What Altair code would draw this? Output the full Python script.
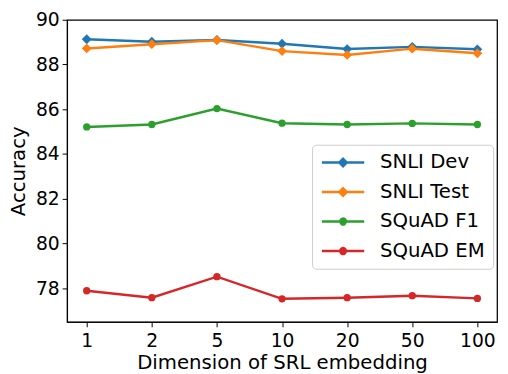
import altair as alt
import pandas as pd

dims = ["1", "2", "5", "10", "20", "50", "100"]
series_names = ["SNLI Dev", "SNLI Test", "SQuAD F1", "SQuAD EM"]
snli_dev = [89.13, 89.02, 89.10, 88.93, 88.69, 88.79, 88.68]
snli_test = [88.72, 88.91, 89.09, 88.60, 88.43, 88.71, 88.50]
squad_f1 = [85.21, 85.32, 86.03, 85.38, 85.32, 85.37, 85.32]
squad_em = [77.89, 77.58, 78.52, 77.53, 77.58, 77.67, 77.55]
colors = ["#1f77b4", "#ff7f0e", "#2ca02c", "#d62728"]
y_ticks = [78, 80, 82, 84, 86, 88, 90]

rows = []
for name, vals in zip(series_names, [snli_dev, snli_test, squad_f1, squad_em]):
    for d, v in zip(dims, vals):
        rows.append({"dim": d, "series": name, "acc": v})
df = pd.DataFrame(rows)

# legend symbols (unit = 8px): line segment + marker, shifted right
diamond_path = "M-1,0H4.38M1.69,-0.47L2.16,0L1.69,0.47L1.22,0Z"
circle_path = "M-1,0H4.38M2.03,0A0.344,0.344 0 1 1 1.346,0A0.344,0.344 0 1 1 2.03,0Z"
legend_shapes = [diamond_path, diamond_path, circle_path, circle_path]

x = alt.X("dim:N", sort=dims,
          scale=alt.Scale(type="point", padding=0.302),
          axis=alt.Axis(title="Dimension of SRL embedding", labelAngle=0))
y = alt.Y("acc:Q",
          scale=alt.Scale(domain=[76.5, 90], nice=False, zero=False),
          axis=alt.Axis(values=y_ticks, title="Accuracy"))

cscale = alt.Scale(domain=series_names, range=colors)
base = alt.Chart(df).encode(x=x, y=y)

line = base.mark_line(strokeWidth=2.5).encode(
    color=alt.Color("series:N", scale=cscale, legend=None),
    detail="series:N")
diamonds = base.transform_filter(
    alt.FieldOneOfPredicate(field="series", oneOf=["SNLI Dev", "SNLI Test"])
).mark_point(shape="diamond", filled=True, size=100, opacity=1).encode(
    color=alt.Color("series:N", scale=cscale, legend=None))
circles = base.transform_filter(
    alt.FieldOneOfPredicate(field="series", oneOf=["SQuAD F1", "SQuAD EM"])
).mark_point(shape="circle", filled=True, size=55, opacity=1).encode(
    color=alt.Color("series:N", scale=cscale, legend=None))

leg = alt.Legend(title=None, orient="none", legendX=249, legendY=127,
                 labelFontSize=20, labelFont="DejaVu Sans", labelColor="black",
                 symbolSize=256, symbolStrokeWidth=2.5, symbolOpacity=1,
                 rowPadding=10, padding=8, labelOffset=41,
                 fillColor="white", strokeColor="#cccccc", cornerRadius=4)

legend_layer = base.mark_point(filled=True, opacity=0, size=256).encode(
    fill=alt.Fill("series:N", scale=alt.Scale(domain=series_names, range=colors), legend=leg),
    stroke=alt.Stroke("series:N", scale=alt.Scale(domain=series_names, range=colors), legend=leg),
    shape=alt.Shape("series:N", scale=alt.Scale(domain=series_names, range=legend_shapes), legend=leg),
)

chart = alt.layer(legend_layer, line, diamonds, circles).properties(
    width=437, height=307,
    autosize=alt.AutoSizeParams(type="none"),
    padding={"left": 60, "top": 9, "right": 3, "bottom": 50},
).configure_view(stroke="black", strokeWidth=1.25).configure_axis(
    grid=False, domainColor="black", tickColor="black", tickSize=5,
    labelColor="black", titleColor="black",
    labelFont="DejaVu Sans", titleFont="DejaVu Sans",
    labelFontSize=19, titleFontSize=20, titleFontWeight="normal",
    labelPadding=3,
).configure_axisY(titlePadding=7).configure_axisX(titlePadding=2, labelPadding=5)

chart.save("out.html", embed_options={"renderer": "svg", "actions": False})
